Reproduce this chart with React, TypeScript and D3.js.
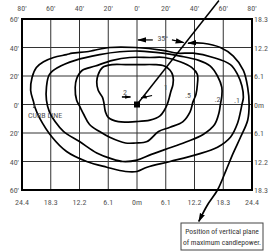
import React from "react"
import * as d3 from "d3"

// plan view in feet, lamp at 0,0 (y up)
const xTicks = [-80, -60, -40, -20, 0, 20, 40, 60, 80]
const yTicks = [60, 40, 20, 0, -20, -40, -60]
const rightLabels = ["18.3", "12.2", "6.1", "0m", "6.1", "12.2", "18.3"]
const bottomLabels = ["24.4", "18.3", "12.2", "6.1", "0m", "6.1", "12.2", "18.3", "24.4"]

// isofootcandle lines [x ft, y ft]
const fc1 = [[-27,21],[-24,26],[-17,28],[-8,28],[2,28],[12,28],[19,27],[23,24],[25,20],[25,14],[23.5,9],[22.5,5],[21,0],[19,-4],[16,-8],[9,-11],[-1,-12],[-13,-12],[-20,-9],[-22,-5],[-23,1],[-24,5],[-27,10],[-28,16]]
const fc05 = [[-42,3],[-43,12],[-42,18],[-38,24],[-29,27],[-17,31],[-5,33],[9,33],[19,33],[30,30],[38,26],[42,21],[42,14],[41,7],[39,2],[37,-5],[32,-12],[23,-16],[15,-19],[7,-26],[-1,-27],[-8,-27],[-19,-23],[-26,-19],[-33,-14],[-37,-7],[-40,-1]]
const fc02 = [[-63,3],[-63,12],[-61,21],[-55,26],[-43,31],[-26,35],[-12,37],[2,37.5],[18,36],[30,34],[43,31],[51,27],[56,20],[59,12],[59,6],[58,0],[57,-6],[54,-14],[46,-21],[35,-26],[24,-30],[10,-35],[0,-39],[-10,-40],[-18,-38],[-28,-34],[-40,-26],[-51,-19],[-57,-12],[-61,-5]]
const fc01 = [[-72,2],[-74,10],[-73,19],[-70,26],[-65,30],[-58,33],[-49,35],[-45,36],[-35,37],[-30,38],[-19,40],[-1,40],[18,38],[28,36],[39,36],[53,33],[65,28],[70,21],[73,13],[74,5],[73,0],[72,-5],[70,-13],[65,-23],[56,-30],[42,-35],[23,-40],[7,-44],[0,-47],[-8,-47],[-21,-44],[-35,-40],[-49,-33],[-59,-23],[-68,-9],[-71,-2]]
const contours = [fc1, fc05, fc02, fc01]
const contourLabels = ["1", ".5", ".2", ".1"]
const labelPos = [[20, 12], [35.5, 7], [56, 4], [69.5, 3]]

// leader from the note box to the max candlepower plane
const leader = [[35.5,43],[46,43],[58,40],[67,34],[74,24],[77,12],[78,0],[77,-11],[72,-23],[67,-34],[62,-46],[56,-60],[49,-70.5],[43,-82]]
const planeEnd = [57, 73]
const angleLabel = "35°"

const W = 272, H = 252

export default function App() {
  const x = d3.scaleLinear().domain([-80, 80]).range([22, 252])
  const y = d3.scaleLinear().domain([60, -60]).range([19, 190])
  const closed = d3.line().x(d => x(d[0])).y(d => y(d[1])).curve(d3.curveCatmullRomClosed.alpha(0.5))
  const open = d3.line().x(d => x(d[0])).y(d => y(d[1])).curve(d3.curveCatmullRom.alpha(0.5))
  const font = "'Liberation Sans Narrow', 'Roboto Condensed', Roboto, sans-serif"
  const grey = "#555"

  return (
    <svg width={W} height={H} style={{ position: "absolute", left: 0, top: 0, background: "#fff" }} fontFamily={font}>
      <defs>
        <marker id="arr" viewBox="0 0 10 6" refX="9" refY="3" markerWidth="9" markerHeight="6" markerUnits="userSpaceOnUse" orient="auto-start-reverse">
          <path d="M0,0 L10,3 L0,6 z" fill="#000" />
        </marker>
        <marker id="arrs" viewBox="0 0 10 6" refX="9" refY="3" markerWidth="6" markerHeight="4" markerUnits="userSpaceOnUse" orient="auto">
          <path d="M0,0 L10,3 L0,6 z" fill="#000" />
        </marker>
      </defs>

      {/* grid */}
      {xTicks.map(t => <line key={"gx" + t} x1={x(t)} x2={x(t)} y1={y(60)} y2={y(-60)} stroke="#333" strokeWidth={1} />)}
      {yTicks.map(t => <line key={"gy" + t} x1={x(-80)} x2={x(80)} y1={y(t)} y2={y(t)} stroke="#333" strokeWidth={1} />)}
      <rect x={x(-80)} y={y(60)} width={x(80) - x(-80)} height={y(-60) - y(60)} fill="none" stroke="#000" strokeWidth={2} />

      {/* axis labels */}
      {xTicks.map(t => <text key={"tx" + t} x={x(t)} y={11} textAnchor="middle" fontSize={8} fill={grey}>{Math.abs(t) + "'"}</text>)}
      {yTicks.map(t => <text key={"ly" + t} x={19} y={y(t) + 3} textAnchor="end" fontSize={8} fill={grey}>{Math.abs(t) + "'"}</text>)}
      {yTicks.map((t, i) => <text key={"ry" + t} x={254} y={y(t) + 3} fontSize={8} fill={grey}>{rightLabels[i]}</text>)}
      {xTicks.map((t, i) => <text key={"bx" + t} x={x(t)} y={205} textAnchor="middle" fontSize={8} fill={grey}>{bottomLabels[i]}</text>)}

      {/* isofootcandle lines */}
      {contours.map((c, i) => <path key={"c" + i} d={closed(c as any) || ""} fill="none" stroke="#000" strokeWidth={1.7} />)}
      {contourLabels.map((l, i) => <text key={"cl" + i} x={x(labelPos[i][0])} y={y(labelPos[i][1]) + 3} textAnchor="middle" fontSize={8} fill={grey}>{l}</text>)}

      {/* plane of max candlepower */}
      <line x1={x(0)} y1={y(0)} x2={x(planeEnd[0])} y2={y(planeEnd[1])} stroke="#000" strokeWidth={1.5} />
      <path d={open(leader as any) || ""} fill="none" stroke="#000" strokeWidth={1.7} markerStart="url(#arr)" markerEnd="url(#arr)" />

      {/* 35 deg dimension */}
      <line x1={x(11)} y1={y(45.3)} x2={x(0.7)} y2={y(45.3)} stroke="#000" strokeWidth={1.2} markerEnd="url(#arr)" />
      <line x1={x(24.3)} y1={y(45.3)} x2={x(32.5)} y2={y(43.4)} stroke="#000" strokeWidth={1.2} markerEnd="url(#arr)" />
      <text x={x(18)} y={y(46.7) + 3} textAnchor="middle" fontSize={8} fill={grey}>{angleLabel}</text>

      {/* lamp */}
      <rect x={x(0) - 3} y={y(0) - 3} width={6} height={6} fill="#000" />
      <text x={x(-8.3)} y={y(8.8) + 3} textAnchor="middle" fontSize={8} fill={grey}>2</text>
      <line x1={x(-10.5)} y1={y(5.3)} x2={x(-4.5)} y2={y(5.3)} stroke="#000" strokeWidth={1.6} markerEnd="url(#arrs)" />
      <line x1={x(10.5)} y1={y(6.3)} x2={x(3)} y2={y(4.6)} stroke="#000" strokeWidth={1.2} markerEnd="url(#arrs)" />

      {/* curb */}
      <line x1={x(-72.3)} y1={y(-2.5)} x2={x(-70.5)} y2={y(0.3)} stroke="#555" strokeWidth={1} />
      <text x={28} y={118} fontSize={8} fill={grey}>CURB LINE</text>

      {/* note */}
      <rect x={181} y={223} width={82} height={27} fill="#fff" stroke="#444" strokeWidth={1} />
      <text x={222} y={234} textAnchor="middle" fontSize={7.5} fill="#333">Position of vertical plane</text>
      <text x={222} y={245} textAnchor="middle" fontSize={7.5} fill="#333">of maximum candlepower.</text>
    </svg>
  )
}
